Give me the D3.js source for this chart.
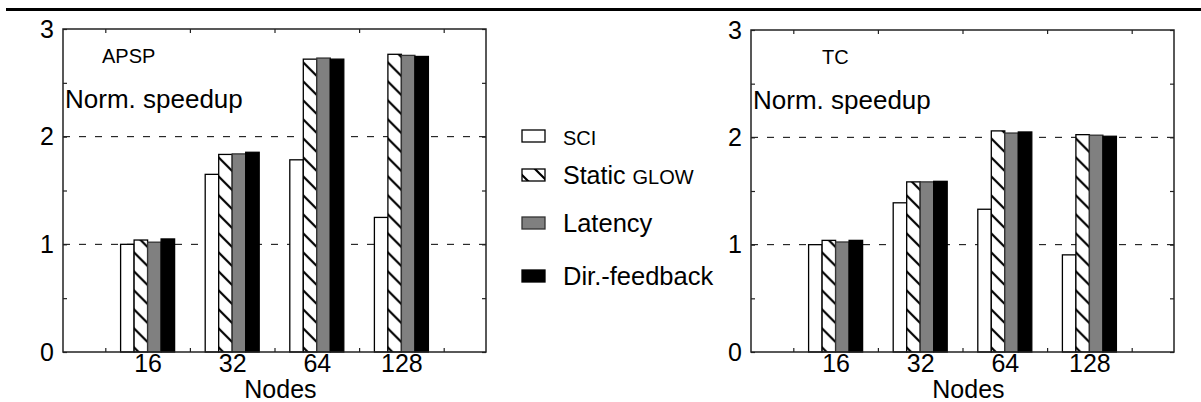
<!DOCTYPE html>
<html>
<head>
<meta charset="utf-8">
<script src="https://cdn.jsdelivr.net/npm/d3@7"></script>
<style>
  body { margin: 0; background: #fff; }
  svg { display: block; font-family: "Liberation Sans", Arial, sans-serif; }
  .tick line { stroke: #222; stroke-width: 1.2; }
</style>
</head>
<body>
<svg id="chart" width="1201" height="402"></svg>
<script>
// data
var nodes = ["16", "32", "64", "128"];
var series = ["SCI", "Static GLOW", "Latency", "Dir.-feedback"];

var apspSCI     = [1.00, 1.65, 1.785, 1.25];
var apspStatic  = [1.04, 1.835, 2.72, 2.765];
var apspLatency = [1.02, 1.84, 2.73, 2.755];
var apspDir     = [1.05, 1.855, 2.72, 2.745];

var tcSCI     = [1.00, 1.39, 1.33, 0.905];
var tcStatic  = [1.04, 1.585, 2.06, 2.025];
var tcLatency = [1.025, 1.585, 2.04, 2.02];
var tcDir     = [1.04, 1.59, 2.05, 2.01];

var yTicks = [0, 0.5, 1, 1.5, 2, 2.5, 3];
var xMinor = [0.5, 1.5, 2.5, 3.5, 4.5];

var svg = d3.select("#chart");

// hatch pattern
var defs = svg.append("defs");
var pat = defs.append("pattern")
    .attr("id", "hatch")
    .attr("patternUnits", "userSpaceOnUse")
    .attr("width", 19).attr("height", 19);
pat.append("rect").attr("width", 19).attr("height", 19).attr("fill", "#fff");
pat.append("path")
    .attr("d", "M-2,-2L21,21M-2,17L2,21M17,-2L21,2")
    .attr("stroke", "#000").attr("stroke-width", 2.2);

var fills = ["#fff", "url(#hatch)", "#808080", "#000"];

// thick rule at top
svg.append("line")
    .attr("x1", 6).attr("x2", 1201).attr("y1", 9.5).attr("y2", 9.5)
    .attr("stroke", "#000").attr("stroke-width", 3);

function panel(left, right, top, bottom, vals, label, labelX) {
    var x = d3.scaleLinear().domain([0, 5]).range([left, right]);
    var y = d3.scaleLinear().domain([0, 3]).range([bottom, top]);
    var inner = d3.scaleBand().domain(series).range([-27, 27]);
    var g = svg.append("g");

    // dashed grid lines
    g.selectAll(".grid")
        .data([1, 2])
        .enter().append("line")
        .attr("x1", left).attr("x2", right)
        .attr("y1", function(d) { return y(d); })
        .attr("y2", function(d) { return y(d); })
        .attr("stroke", "#000").attr("stroke-width", 1)
        .attr("stroke-dasharray", "7,9");

    // bars
    var groups = g.selectAll(".grp")
        .data(nodes)
        .enter().append("g")
        .attr("transform", function(d, i) { return "translate(" + x(i + 1) + ",0)"; });

    groups.selectAll("rect")
        .data(function(d, i) {
            return series.map(function(s, k) { return { s: s, k: k, v: vals[k][i] }; });
        })
        .enter().append("rect")
        .attr("x", function(d) { return inner(d.s); })
        .attr("width", inner.bandwidth())
        .attr("y", function(d) { return y(d.v); })
        .attr("height", function(d) { return y(0) - y(d.v); })
        .attr("fill", function(d) { return fills[d.k]; })
        .attr("stroke", function(d) { return d.k == 2 ? "#333" : "#000"; })
        .attr("stroke-width", 1.3);

    // axes, ticks pointing inward
    g.append("g").attr("transform", "translate(0," + bottom + ")")
        .call(d3.axisBottom(x).tickValues(xMinor).tickSize(-4).tickFormat(""));
    g.append("g").attr("transform", "translate(0," + top + ")")
        .call(d3.axisTop(x).tickValues(xMinor).tickSize(-4).tickFormat(""));
    g.append("g").attr("transform", "translate(" + left + ",0)")
        .call(d3.axisLeft(y).tickValues(yTicks).tickSize(-4).tickPadding(9)
            .tickFormat(function(d) { return Number.isInteger(d) ? d : ""; }));
    g.append("g").attr("transform", "translate(" + right + ",0)")
        .call(d3.axisRight(y).tickValues(yTicks).tickSize(-4).tickFormat(""));
    g.append("g").attr("class", "xlab").attr("transform", "translate(0," + bottom + ")")
        .call(d3.axisBottom(x).tickValues([1, 2, 3, 4]).tickSize(0).tickPadding(2)
            .tickFormat(function(d) { return nodes[d - 1]; }));

    g.selectAll(".domain").remove();
    g.selectAll(".tick text")
        .attr("font-family", "Liberation Sans, Arial, sans-serif")
        .attr("font-size", 25).attr("fill", "#000");

    // frame
    g.append("rect")
        .attr("x", left).attr("y", top)
        .attr("width", right - left).attr("height", bottom - top)
        .attr("fill", "none").attr("stroke", "#222").attr("stroke-width", 1.5);

    g.append("text")
        .attr("x", x(2.57)).attr("y", bottom + 46)
        .attr("text-anchor", "middle").attr("font-size", 25)
        .text("Nodes");
    g.append("text")
        .attr("x", left + 2).attr("y", top + 79)
        .attr("font-size", 26)
        .text("Norm. speedup");
    g.append("text")
        .attr("x", labelX).attr("y", top + 34)
        .attr("font-size", 20)
        .text(label);
}

panel(63, 486, 29, 352, [apspSCI, apspStatic, apspLatency, apspDir], "APSP", 102);
panel(751, 1174, 30, 352, [tcSCI, tcStatic, tcLatency, tcDir], "TC", 822);

// legend
var legendY = [136, 175, 223, 276];
var leg = svg.append("g");
var items = leg.selectAll(".item")
    .data(series)
    .enter().append("g")
    .attr("transform", function(d, i) { return "translate(522," + legendY[i] + ")"; });

items.append("rect")
    .attr("x", 0).attr("y", -6)
    .attr("width", 23).attr("height", 12)
    .attr("fill", function(d, i) { return fills[i]; })
    .attr("stroke", function(d, i) { return i == 2 ? "#333" : "#000"; })
    .attr("stroke-width", 1.3);

var lt = items.append("text")
    .attr("x", 41).attr("y", 9);
lt.each(function(d, i) {
    var t = d3.select(this);
    if (i == 0) {
        t.append("tspan").attr("font-size", 20).text("SCI");
    } else if (i == 1) {
        t.append("tspan").attr("font-size", 25).text("Static ");
        t.append("tspan").attr("font-size", 20).text("GLOW");
    } else {
        t.append("tspan").attr("font-size", 25.5).text(d);
    }
});
</script>
</body>
</html>
